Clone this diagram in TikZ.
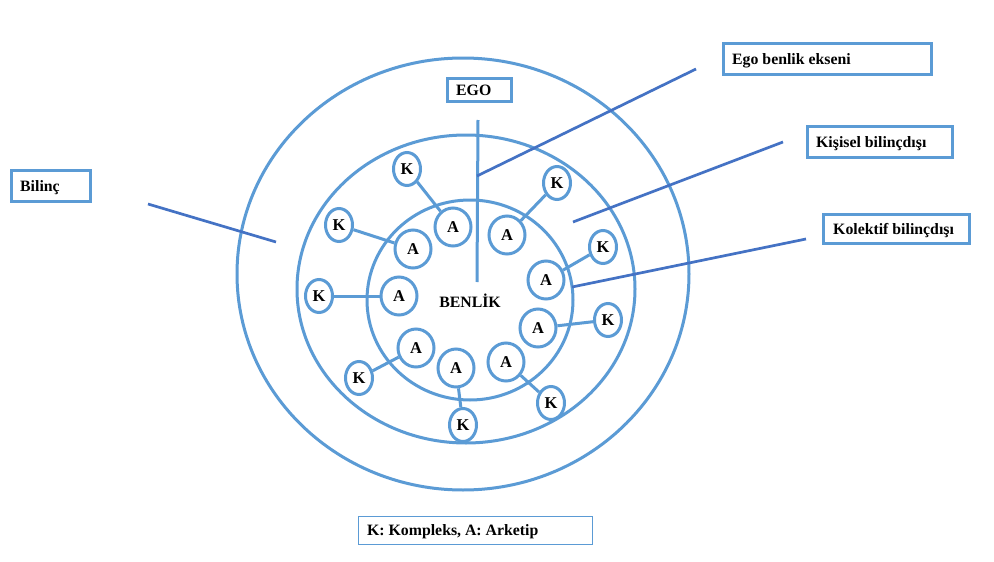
\documentclass[tikz,border=0pt]{standalone}
\usepackage{fontspec}
\setmainfont{Liberation Serif}
\usetikzlibrary{shapes.geometric}
\definecolor{ringblue}{HTML}{5B9BD5}
\definecolor{lineblue}{HTML}{4472C4}
\begin{document}
\begin{tikzpicture}[x=1pt,y=-1pt,
  ring/.style={draw=ringblue, line width=3pt},
  kbox/.style={ellipse, draw=ringblue, line width=3pt, minimum width=27pt, minimum height=33pt, inner sep=0pt, font=\fontsize{16.5}{18}\selectfont\bfseries},
  abox/.style={ellipse, draw=ringblue, line width=3pt, minimum width=36pt, minimum height=38pt, inner sep=0pt, font=\fontsize{16.5}{18}\selectfont\bfseries},
  link/.style={draw=ringblue, line width=3pt},
  pointer/.style={draw=lineblue, line width=2.7pt},
  lbox/.style={draw=ringblue, line width=3pt, anchor=north west, inner sep=0pt},
  ltext/.style={anchor=west, inner sep=0pt, text height=10.3pt, text depth=0pt, font=\fontsize{15.8}{18}\selectfont\bfseries}]
\useasboundingbox (0,0) rectangle (994,562);
\fill[white] (0,0) rectangle (994,562);

% rings
\draw[ring] (463,274) ellipse [x radius=226pt, y radius=216pt];
\draw[ring] (466,289) ellipse [x radius=169pt, y radius=154pt];
\draw[ring] (470,300) ellipse [x radius=103pt, y radius=100pt];

% ego axis
\coordinate (axtop) at (478,120);
\coordinate (axbot) at (477,282);
\draw[ring] (axtop) -- (axbot);

\node[font=\fontsize{15.8}{18}\selectfont\bfseries] (benlik) at (470,301) {BENLİK};

% archetypes and complexes
\node[abox] (A1) at (453,227) {A};
\node[abox] (A2) at (413,249) {A};
\node[abox] (A3) at (399,296) {A};
\node[abox] (A4) at (416,348) {A};
\node[abox] (A5) at (456,368) {A};
\node[abox] (A6) at (506,362) {A};
\node[abox] (A7) at (538,328) {A};
\node[abox] (A8) at (546,280) {A};
\node[abox] (A9) at (507,235) {A};

\node[kbox] (K1) at (407,169) {K};
\node[kbox] (K2) at (339,225) {K};
\node[kbox] (K3) at (319,296) {K};
\node[kbox] (K4) at (359,378) {K};
\node[kbox] (K5) at (463,425) {K};
\node[kbox] (K6) at (551,403) {K};
\node[kbox] (K7) at (608,320) {K};
\node[kbox] (K8) at (603,247) {K};
\node[kbox] (K9) at (557,183) {K};

\draw[link] (K1) -- (A1);
\draw[link] (K2) -- (A2);
\draw[link] (K3) -- (A3);
\draw[link] (K4) -- (A4);
\draw[link] (K5) -- (A5);
\draw[link] (K6) -- (A6);
\draw[link] (K7) -- (A7);
\draw[link] (K8) -- (A8);
\draw[link] (K9) -- (A9);

% label boxes
\node[lbox, minimum width=79pt, minimum height=31pt] (bil) at (10,169) {};
\node[ltext] (bilt) at ([xshift=10pt]bil.west) {Bilinç};
\node[lbox, minimum width=64pt, minimum height=23pt] (ego) at (446,77) {};
\node[ltext] (egot) at ([xshift=10pt]ego.west) {EGO};
\node[lbox, minimum width=208pt, minimum height=31pt] (ebe) at (722,42) {};
\node[ltext] (ebet) at ([xshift=10pt]ebe.west) {Ego benlik ekseni};
\node[lbox, minimum width=145pt, minimum height=31pt] (kis) at (806,125) {};
\node[ltext] (kist) at ([xshift=10pt]kis.west) {Kişisel bilinçdışı};
\node[lbox, minimum width=146pt, minimum height=29pt] (kol) at (822,213) {};
\node[ltext] (kolt) at ([xshift=11pt]kol.west) {Kolektif bilinçdışı};
\node[lbox, line width=1.3pt, minimum width=234pt, minimum height=28pt] (leg) at (358,516) {};
\node[ltext] (legt) at ([xshift=9pt]leg.west) {K: Kompleks, A: Arketip};

% pointer lines
\coordinate (p1a) at (148,204); \coordinate (p1b) at (276,242);
\coordinate (p2a) at (477,176); \coordinate (p2b) at (696,69);
\coordinate (p3a) at (573,222); \coordinate (p3b) at (783,142);
\coordinate (p4a) at (572,287); \coordinate (p4b) at (806,239);
\draw[pointer] (p1a) -- (p1b);
\draw[pointer] (p2a) -- (p2b);
\draw[pointer] (p3a) -- (p3b);
\draw[pointer] (p4a) -- (p4b);
\end{tikzpicture}
\end{document}
